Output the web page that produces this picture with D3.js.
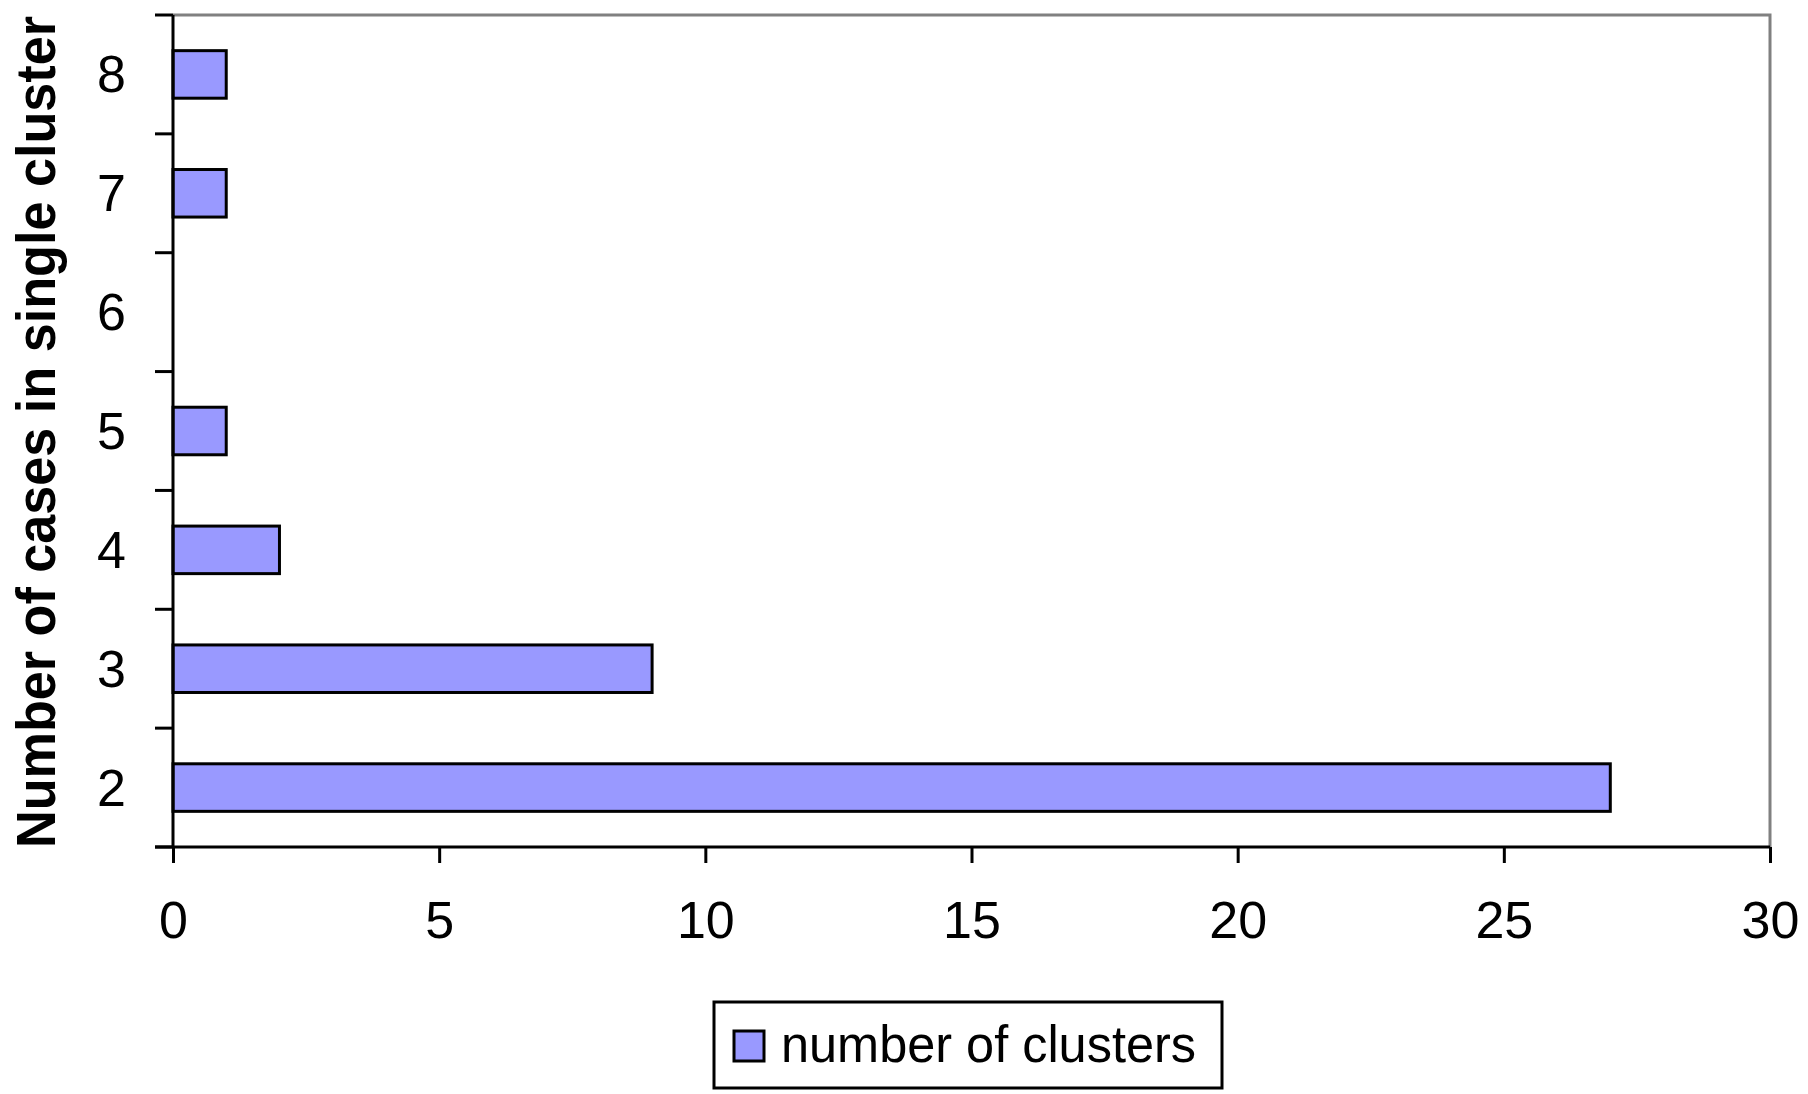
<!DOCTYPE html>
<html>
<head>
<meta charset="utf-8">
<script src="https://cdnjs.cloudflare.com/ajax/libs/d3/7.8.5/d3.min.js"></script>
<style>
  body { margin: 0; background: #fff; }
  text { font-family: "Liberation Sans", Arial, sans-serif; }
</style>
</head>
<body>
<div class="chart"></div>
<script>
// Data
var categories = ["2", "3", "4", "5", "6", "7", "8"];
var clusterCounts = [27, 9, 2, 1, 0, 1, 1];
var xTicks = [0, 5, 10, 15, 20, 25, 30];
var seriesName = "number of clusters";
var yTitle = "Number of cases in single cluster";

// Set Parms
var svgWidth = 1808;
var svgHeight = 1094;
var margin = {left: 173, right: 38, top: 15, bottom: 247};
var plotW = svgWidth - margin.left - margin.right;
var plotH = svgHeight - margin.top - margin.bottom;

var svg = d3.select(".chart")
  .append("svg")
  .attr("width", svgWidth)
  .attr("height", svgHeight);

var g = svg.append("g")
  .attr("transform", "translate(" + margin.left + "," + margin.top + ")");

var x = d3.scaleLinear().domain([0, 30]).range([0, plotW]);
var y = d3.scaleBand().domain(categories.slice().reverse()).range([0, plotH]).padding(0);

// plot frame (top and right in grey)
g.append("path")
  .attr("d", "M0,0H" + plotW + "V" + plotH)
  .attr("fill", "none")
  .attr("stroke", "#808080")
  .attr("stroke-width", 3);

// bars
g.selectAll(".bar")
  .data(categories.map(function(c, i){ return {cat: c, val: clusterCounts[i]}; })
    .filter(function(d){ return d.val > 0; }))
  .enter()
  .append("rect")
    .attr("class", "bar")
    .attr("x", x(0))
    .attr("y", function(d){ return y(d.cat) + y.bandwidth() * 0.3; })
    .attr("width", function(d){ return x(d.val) - x(0); })
    .attr("height", y.bandwidth() * 0.4)
    .attr("fill", "#9999ff")
    .attr("stroke", "#000")
    .attr("stroke-width", 3);

// y axis: ticks between categories
var yBounds = d3.range(categories.length + 1).map(function(i){ return i * y.step(); });
g.append("line")
  .attr("x1", 0).attr("x2", 0).attr("y1", 0).attr("y2", plotH)
  .attr("stroke", "#000").attr("stroke-width", 3);
g.selectAll(".ytick")
  .data(yBounds)
  .enter()
  .append("line")
    .attr("x1", -18).attr("x2", 0)
    .attr("y1", function(d){ return d; })
    .attr("y2", function(d){ return d; })
    .attr("stroke", "#000").attr("stroke-width", 3);
g.selectAll(".ylab")
  .data(categories)
  .enter()
  .append("text")
    .attr("x", -47)
    .attr("y", function(d){ return y(d) + y.bandwidth() / 2 + 18; })
    .attr("text-anchor", "end")
    .attr("font-size", 52)
    .text(function(d){ return d; });

// x axis
var xAxis = g.append("g")
  .attr("transform", "translate(0," + plotH + ")")
  .call(d3.axisBottom(x).tickValues(xTicks).tickSize(16).tickPadding(38));
xAxis.select(".domain").attr("stroke-width", 3).attr("d", "M-18,0H" + plotW);
xAxis.selectAll(".tick line").attr("stroke-width", 3);
xAxis.selectAll(".tick text")
  .attr("font-size", 52)
  .attr("font-family", "Liberation Sans, Arial, sans-serif")
  .attr("fill", "#000");

// y title
svg.append("text")
  .attr("transform", "translate(55,432) rotate(-90)")
  .attr("text-anchor", "middle")
  .attr("font-size", 56)
  .attr("font-weight", "bold")
  .attr("textLength", 832)
  .attr("lengthAdjust", "spacingAndGlyphs")
  .text(yTitle);

// legend
var legend = svg.append("g").attr("transform", "translate(714,1002)");
legend.append("rect")
  .attr("width", 508).attr("height", 86)
  .attr("fill", "#fff").attr("stroke", "#000").attr("stroke-width", 3);
legend.append("rect")
  .attr("x", 20).attr("y", 29).attr("width", 30).attr("height", 30)
  .attr("fill", "#9999ff").attr("stroke", "#000").attr("stroke-width", 3);
legend.append("text")
  .attr("x", 67).attr("y", 60)
  .attr("font-size", 52)
  .attr("textLength", 415)
  .attr("lengthAdjust", "spacingAndGlyphs")
  .text(seriesName);
</script>
</body>
</html>
